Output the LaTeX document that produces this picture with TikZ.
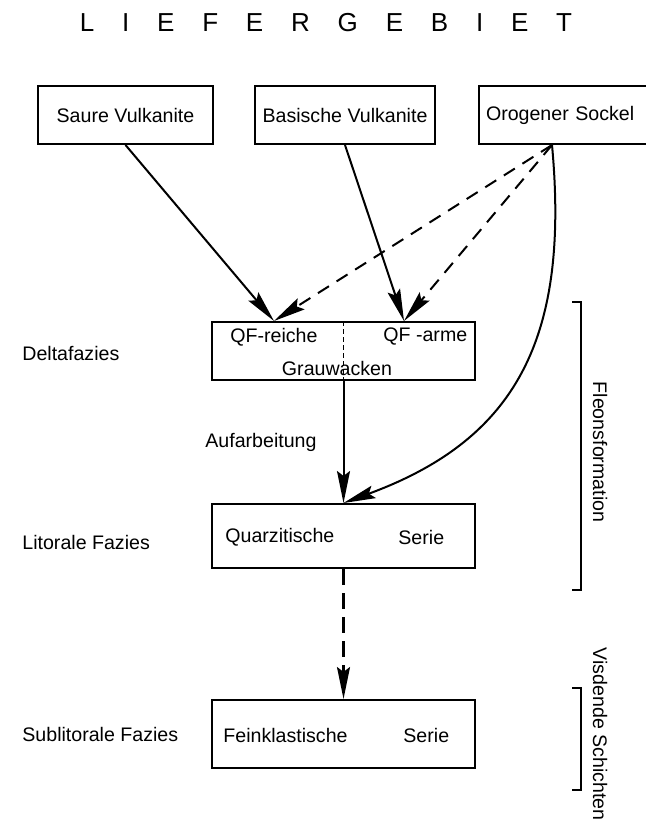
\documentclass[tikz,border=0pt]{standalone}
\usepackage{fontspec}
\setmainfont{Liberation Sans}
\usetikzlibrary{arrows.meta}

\begin{document}
\begin{tikzpicture}
  [x=.5pt,y=-.5pt,font=\fontsize{9.8}{12}\selectfont,
   every node/.style={inner sep=0pt},
   box/.style={draw,line width=1pt,minimum height=29pt},
   pfeil/.style={line width=1pt,-{Stealth[length=16pt,width=6.5pt,inset=2.5pt]}},
   gestr/.style={pfeil,dash pattern=on 6.5pt off 4.5pt}]
  \useasboundingbox (0,0) rectangle (645,823);
  \node[font=\fontsize{13}{15}\selectfont] (titel) at (326,23) {\spaceskip=13.9pt\relax L I E F E R G E B I E T};

  \node[box,minimum width=87.5pt] (sv) at (125.5,115) {Saure Vulkanite};
  \node[box,minimum width=90pt] (bv) at (345,115) {Basische Vulkanite};
  \node[box,anchor=west,text width=140pt,inner xsep=3.5pt] (os) at (478,115) {Orogener Sockel};

  \node[box,minimum width=131.5pt] (delta) at (343.5,351) {};
  \node[box,minimum width=131.5pt,minimum height=32pt] (quarz) at (343.5,536) {};
  \node[box,minimum width=131.5pt,minimum height=34pt] (fein) at (343.5,734) {};

  \node[anchor=west] (qfr) at (230,337) {QF-reiche};
  \node[anchor=west] (qfa) at (383,337) {QF -arme};
  \node (grau) at (337,368) {Grauwacken};
  \node[anchor=west] (quarzt) at (225,537) {Quarzitische};
  \node[anchor=west] (quarzs) at (398,537) {Serie};
  \node[anchor=west] (feint) at (223,735) {Feinklastische};
  \node[anchor=west] (feins) at (403,735) {Serie};

  \node[anchor=west] (deltaf) at (22,353) {Deltafazies};
  \node[anchor=west] (litf) at (22,542) {Litorale Fazies};
  \node[anchor=west] (sublitf) at (22,734) {Sublitorale Fazies};
  \node[anchor=west] (aufarb) at (205,442) {Aufarbeitung};

  \node[rotate=-90] (fleons) at (600,452) {Fleonsformation};
  \node[rotate=-90] (visd) at (600,734) {Visdende Schichten};
  \draw[line width=.8pt] (572,302) -- (581,302) -- (581,590) -- (572,590);
  \draw[line width=.8pt] (572,688) -- (581,688) -- (581,790) -- (572,790);

  \coordinate (osa) at ([xshift=37pt]os.south west);
  \coordinate (qfra) at ([xshift=-34.75pt]delta.north);
  \coordinate (qfaa) at ([xshift=30.25pt]delta.north);
\foreach \from/\to/\how in
{sv.south/qfra/pfeil, bv.south/qfaa/pfeil, osa/qfra/gestr, osa/qfaa/gestr, delta.south/quarz.north/pfeil}
    \draw[\how] (\from) -- (\to);
  \draw[pfeil] (osa) .. controls (570,340) and (515,440) .. (quarz.north);
  \draw[pfeil,line width=1.2pt,dash pattern=on 8pt off 4pt] (quarz.south) -- (fein.north);
  \draw[line width=.6pt,dash pattern=on 2.5pt off 1.5pt] (delta.north) -- (delta.south);

\end{tikzpicture}
\end{document}
